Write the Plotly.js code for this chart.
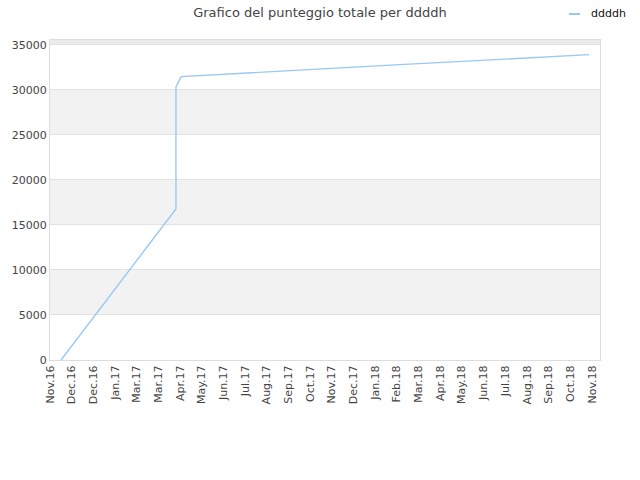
<!DOCTYPE html>
<html>
<head>
<meta charset="utf-8">
<script src="https://cdn.plot.ly/plotly-3.0.1.min.js"></script>
<style>
  html, body { margin: 0; padding: 0; background: #fff; }
  #chart { width: 640px; height: 480px; }
</style>
</head>
<body>
<div id="chart"></div>
<script>
// ── Dati ──────────────────────────────────────────────────────────────
// asse x in unità di "tacca" (0 = Nov.16, 25 = Nov.18)
const tickLabels = ['Nov.16', 'Dec.16', 'Dec.16', 'Jan.17', 'Mar.17', 'Mar.17', 'Apr.17',
  'May.17', 'Jun.17', 'Jul.17', 'Aug.17', 'Sep.17', 'Oct.17', 'Nov.17', 'Dec.17',
  'Jan.18', 'Feb.18', 'Mar.18', 'Apr.18', 'May.18', 'Jun.18', 'Jul.18', 'Aug.18',
  'Sep.18', 'Oct.18', 'Nov.18'];
const scoreX = [0.51, 5.81, 5.81, 6.05, 16.13, 24.86];
const scoreY = [0, 16780, 30330, 31480, 32810, 33920];
const seriesName = 'ddddh';

const yMax  = 35550;
const bandStep = 5000;
const lineColor = '#99c8f5';

// bande grigie alternate
const shapes = [];
for (let y0 = bandStep; y0 < yMax; y0 += 2 * bandStep) {
  shapes.push({
    type: 'rect', xref: 'paper', yref: 'y', layer: 'below',
    x0: 0, x1: 1, y0: y0, y1: Math.min(y0 + bandStep, yMax),
    fillcolor: y0 + bandStep > yMax ? '#ebebeb' : '#f2f2f2', line: { width: 0 }
  });
}

// chiave della legenda (trattino corto come nell'originale)
shapes.push({
  type: 'line', xref: 'paper', yref: 'paper',
  x0: 519 / 550, x1: 530 / 550, y0: 1 + 26 / 320, y1: 1 + 26 / 320,
  line: { color: lineColor, width: 2 }
});

const trace = {
  type: 'scatter',
  mode: 'lines',
  name: seriesName,
  x: scoreX,
  y: scoreY,
  line: { color: lineColor, width: 1.4 },
  hoverinfo: 'skip'
};

const layout = {
  width: 640,
  height: 480,
  paper_bgcolor: '#ffffff',
  plot_bgcolor:  '#ffffff',
  font: { family: 'DejaVu Sans, sans-serif', size: 11, color: '#444' },
  margin: { l: 50, r: 40, t: 40, b: 120 },
  title: {
    text: 'Grafico del punteggio totale per ddddh',
    font: { size: 13, color: '#444' },
    x: 0.5, xanchor: 'center', y: 0.975, yanchor: 'middle'
  },
  showlegend: false,
  annotations: [{
    text: seriesName, xref: 'paper', yref: 'paper',
    x: 539 / 550, y: 1 + 26 / 320, xanchor: 'left', yanchor: 'middle',
    showarrow: false, font: { size: 11, color: '#111' }
  }],
  xaxis: {
    range: [0, 25.37],
    tickmode: 'array',
    tickvals: tickLabels.map((_, i) => i),
    ticktext: tickLabels,
    tickangle: -90,
    showgrid: false,
    zeroline: false,
    showline: true,
    mirror: true,
    linecolor: '#dddddd',
    linewidth: 1,
    ticks: '',
    tickfont: { size: 11, color: '#444' }
  },
  yaxis: {
    range: [0, yMax],
    tickvals: [0, 5000, 10000, 15000, 20000, 25000, 30000, 35000],
    ticktext: ['0', '5000', '10000', '15000', '20000', '25000', '30000', '35000'],
    showgrid: true,
    gridcolor: '#e2e2e2',
    zeroline: false,
    showline: true,
    mirror: true,
    linecolor: '#dddddd',
    linewidth: 1,
    ticks: '',
    tickfont: { size: 11, color: '#444' }
  },
  shapes: shapes
};

Plotly.newPlot('chart', [trace], layout, { displayModeBar: false, staticPlot: true });
</script>
</body>
</html>
